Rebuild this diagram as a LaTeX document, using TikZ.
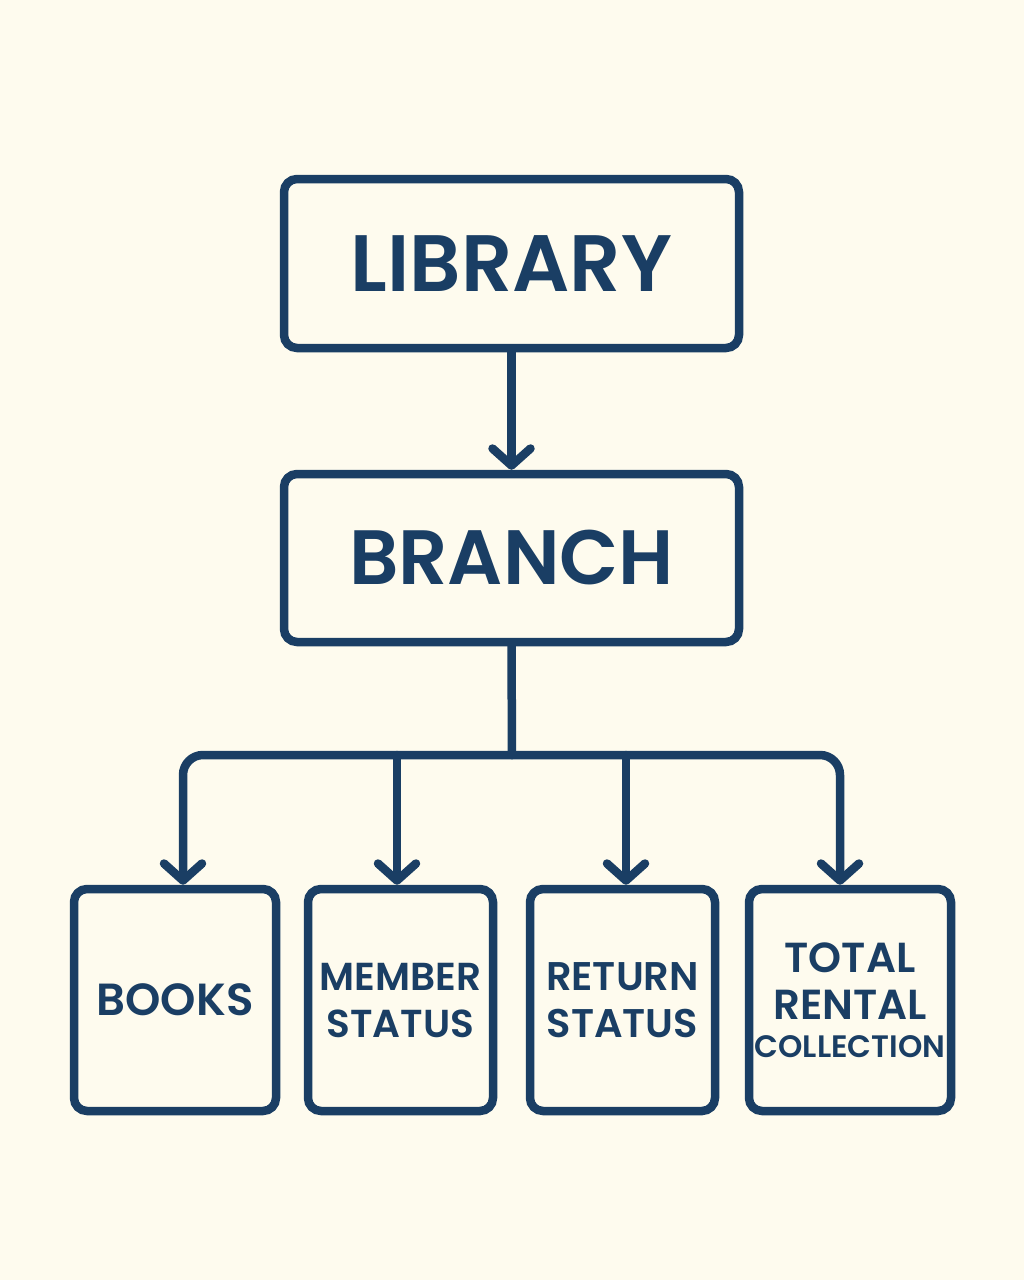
\documentclass[tikz,border=0pt]{standalone}
\usepackage{fontspec}
\setmainfont{Poppins}[BoldFont={Poppins SemiBold}]
\usetikzlibrary{arrows.meta}
\definecolor{navy}{HTML}{1A3E64}
\definecolor{paper}{HTML}{FEFBEE}
\begin{document}
\begin{tikzpicture}[x=1pt,y=-1pt,
  box/.style={draw=navy,line width=8.5pt,rounded corners=13pt,text=navy,font=\bfseries,align=center,inner sep=0pt},
  conn/.style={draw=navy,line width=8.5pt,line cap=round,line join=round},
  arr/.style={conn,-{Straight Barb[length=17pt,width=38pt,line width=8.5pt,round]}}]
\fill[paper] (0,0) rectangle (1024,1280);
\useasboundingbox (0,0) rectangle (1024,1280);
\node[box,minimum width=455pt,minimum height=169pt,font=\fontsize{80}{80}\selectfont\bfseries] (lib) at (511.5,263.5) {LIBRARY};
\node[box,minimum width=455pt,minimum height=168pt,font=\fontsize{77}{77}\selectfont\bfseries] (br) at (511.5,558) {BRANCH};
\node[box,minimum width=202pt,minimum height=222pt,font=\fontsize{45}{45}\selectfont\bfseries] (books) at (175,1000) {BOOKS};
\node[box,minimum width=185pt,minimum height=222pt,font=\fontsize{39}{47}\selectfont\bfseries] (mem) at (400.5,1000) {MEMBER\\STATUS};
\node[box,minimum width=185pt,minimum height=222pt,font=\fontsize{40}{47}\selectfont\bfseries] (ret) at (622.5,1000) {RETURN\\STATUS};
\node[box,minimum width=202pt,minimum height=222pt,font=\fontsize{42}{47}\selectfont\bfseries] (tot) at (850,1000) {TOTAL\\RENTAL\\[-9pt]{\fontsize{31}{38}\selectfont COLLECTION}};
\coordinate (bus) at (512,755);
\coordinate (d1) at (183,755);
\coordinate (d2) at (397,755);
\coordinate (d3) at (626,755);
\coordinate (d4) at (840,755);
\draw[arr] (lib.south) -- (br.north);
\draw[conn] (br.south) -- (bus);
\draw[arr,rounded corners=20pt] (bus) -| (books.north -| d1);
\draw[arr,rounded corners=20pt] (bus) -| (tot.north -| d4);
\draw[arr] (d2) -- (mem.north -| d2);
\draw[arr] (d3) -- (ret.north -| d3);
\end{tikzpicture}
\end{document}
